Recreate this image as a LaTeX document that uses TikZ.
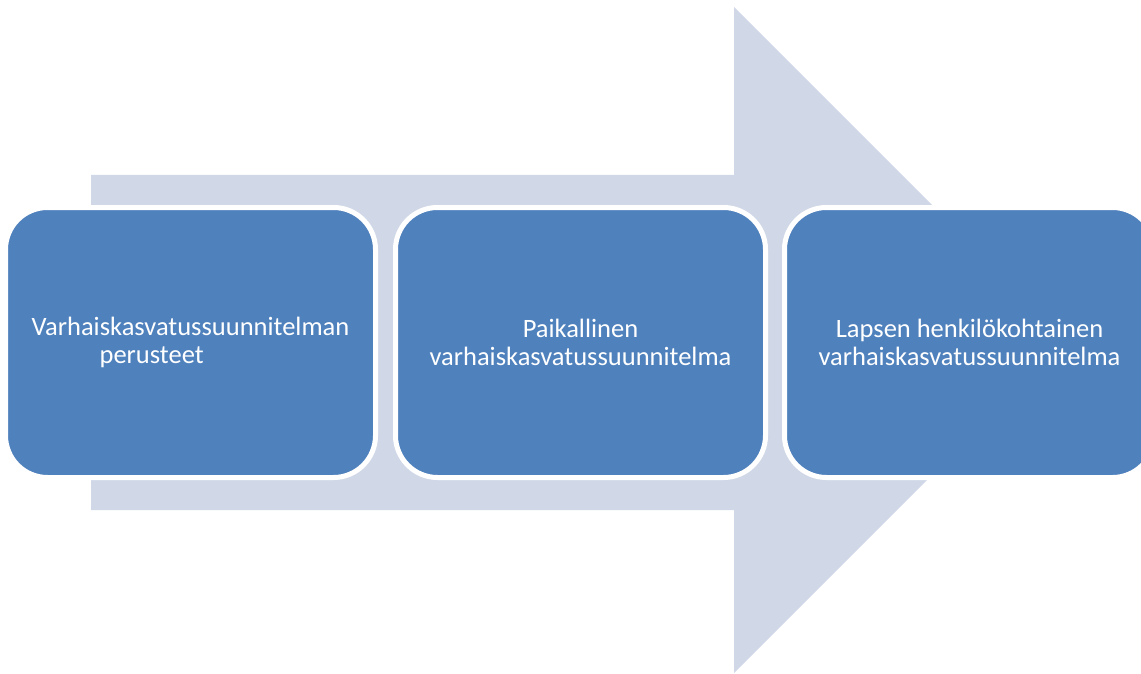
\documentclass[tikz,border=0pt]{standalone}
\usepackage{fontspec}
\setmainfont{Carlito}
\definecolor{arrowfill}{HTML}{D0D8E8}
\definecolor{boxfill}{HTML}{4F81BD}
\begin{document}
\begin{tikzpicture}[x=1pt,y=-1pt,
  stagebox/.style={rectangle, rounded corners=42pt, fill=boxfill, draw=white, line width=5pt,
    minimum width=370pt, minimum height=270pt, text=white, inner sep=0pt,
    font=\fontsize{26.5pt}{28pt}\selectfont}]
\useasboundingbox (0,0) rectangle (1141,674);
\clip (0,0) rectangle (1141,674);
\fill[arrowfill] (91,175) -- (734,175) -- (734,7) -- (1067,340) -- (734,673) -- (734,510) -- (91,510) -- cycle;
\node[stagebox, align=left] (b1) at (190.5,342.5) {Varhaiskasvatussuunnitelman\\\hspace*{68pt}perusteet};
\node[stagebox, align=center] (b2) at (580.5,342.5) {Paikallinen\\varhaiskasvatussuunnitelma};
\node[stagebox, align=center] (b3) at (969.5,342.5) {Lapsen henkilökohtainen\\varhaiskasvatussuunnitelma};
\end{tikzpicture}
\end{document}
